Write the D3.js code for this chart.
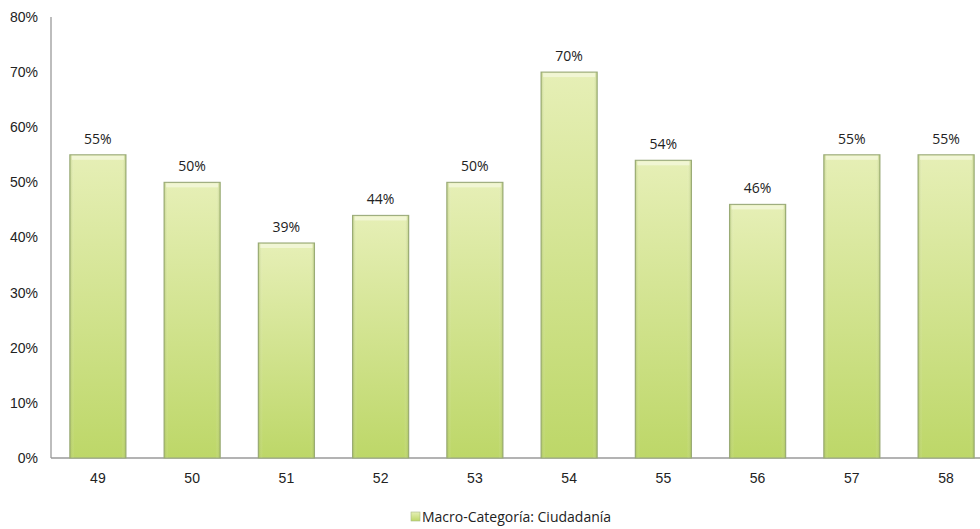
<!DOCTYPE html>
<html>
<head>
<meta charset="utf-8">
<script src="https://cdn.jsdelivr.net/npm/d3@7"></script>
<style>
  html, body { margin: 0; padding: 0; background: #fff; }
  svg { display: block; font-family: "Open Sans", "Noto Sans", sans-serif; }
</style>
</head>
<body>
<svg id="chart" width="980" height="529"></svg>
<script>
// chart data
const categories = ["49", "50", "51", "52", "53", "54", "55", "56", "57", "58"];
const values = [55, 50, 39, 44, 50, 70, 54, 46, 55, 55];
const yTicks = [0, 10, 20, 30, 40, 50, 60, 70, 80];
const seriesName = "Macro-Categoría: Ciudadanía";

const svg = d3.select("#chart");
const defs = svg.append("defs");

/** Vertical fill: pale top to greener bottom. */
const gv = defs.append("linearGradient").attr("id", "barV")
  .attr("x1", 0).attr("y1", 0).attr("x2", 0).attr("y2", 1);
gv.append("stop").attr("offset", "0%").attr("stop-color", "#e6efb6");
gv.append("stop").attr("offset", "100%").attr("stop-color", "#bdd768");

/** Horizontal shading for the bevelled sides. */
const gh = defs.append("linearGradient").attr("id", "barH")
  .attr("x1", 0).attr("y1", 0).attr("x2", 1).attr("y2", 0);
gh.append("stop").attr("offset", "0%").attr("stop-color", "#7f9a3a").attr("stop-opacity", 0.35);
gh.append("stop").attr("offset", "8%").attr("stop-color", "#ffffff").attr("stop-opacity", 0);
gh.append("stop").attr("offset", "92%").attr("stop-color", "#ffffff").attr("stop-opacity", 0);
gh.append("stop").attr("offset", "100%").attr("stop-color", "#7f9a3a").attr("stop-opacity", 0.35);

const plotLeft = 51, plotTop = 17, plotBottom = 458, plotRight = 993;
const fontSize = 14;

const x = d3.scaleBand().domain(categories).range([plotLeft, plotRight]).paddingInner(0.405).paddingOuter(0.2);
const y = d3.scaleLinear().domain([0, 80]).range([plotBottom, plotTop]);

// axes
svg.append("line").attr("x1", plotLeft).attr("x2", plotLeft).attr("y1", plotTop).attr("y2", plotBottom)
  .attr("stroke", "#9a9a9a").attr("stroke-width", 1.3);
svg.append("line").attr("x1", plotLeft).attr("x2", 980).attr("y1", plotBottom).attr("y2", plotBottom)
  .attr("stroke", "#9a9a9a").attr("stroke-width", 1.3);

const yAxis = svg.append("g").attr("transform", `translate(${plotLeft},0)`)
  .call(d3.axisLeft(y).tickValues(yTicks).tickFormat(d => d + "%").tickSize(0).tickPadding(13));
yAxis.select(".domain").remove();
yAxis.selectAll("text").attr("font-size", fontSize).attr("fill", "#222");

const xAxis = svg.append("g").attr("transform", `translate(0,${plotBottom})`)
  .call(d3.axisBottom(x).tickSize(0).tickPadding(15));
xAxis.select(".domain").remove();
xAxis.selectAll("text").attr("font-size", fontSize).attr("fill", "#222");

// bars
const bars = svg.append("g").selectAll("g").data(values).join("g")
  .attr("transform", (d, i) => `translate(${x(categories[i])},0)`);
bars.append("rect")
  .attr("y", d => y(d)).attr("width", x.bandwidth()).attr("height", d => plotBottom - y(d))
  .attr("fill", "url(#barV)").attr("stroke", "#9fae80").attr("stroke-width", 1.2);
bars.append("rect")
  .attr("y", d => y(d)).attr("width", x.bandwidth()).attr("height", d => plotBottom - y(d))
  .attr("fill", "url(#barH)");
bars.append("rect")
  .attr("x", 2).attr("y", d => y(d) + 1).attr("width", x.bandwidth() - 4).attr("height", 4)
  .attr("fill", "#f4f8dc").attr("opacity", 0.8);

// value labels
bars.append("text")
  .attr("x", x.bandwidth() / 2).attr("y", d => y(d) - 11)
  .attr("text-anchor", "middle").attr("font-size", fontSize).attr("fill", "#222")
  .text(d => d + "%");

// legend
const legend = svg.append("g").attr("transform", "translate(0,522)");
legend.append("rect").attr("x", 411).attr("y", -10).attr("width", 9).attr("height", 9)
  .attr("fill", "url(#barV)").attr("stroke", "#a8b888").attr("stroke-width", 0.6);
legend.append("text").attr("x", 422).attr("y", 0).attr("font-size", fontSize).attr("fill", "#222")
  .text(seriesName);
</script>
</body>
</html>
